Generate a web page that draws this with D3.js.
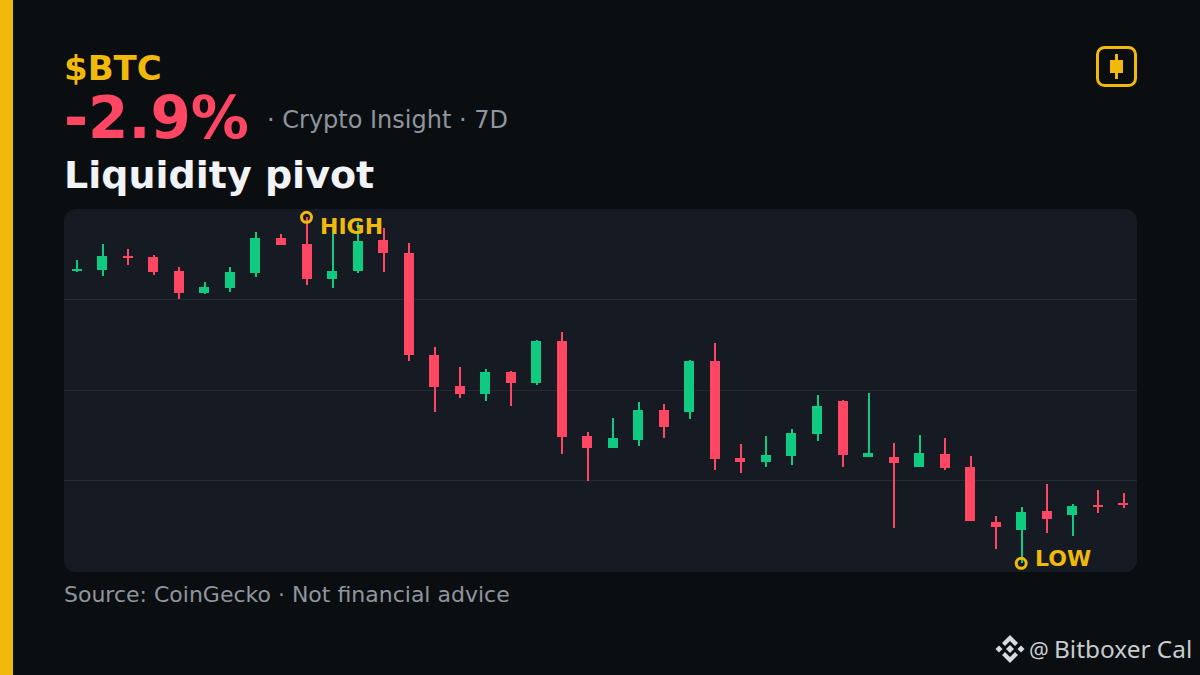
<!DOCTYPE html>
<html>
<head>
<meta charset="utf-8">
<style>
html, body { margin: 0; padding: 0; background: #0b0e11; }
svg { display: block; }
text { font-family: "DejaVu Sans", sans-serif; }
</style>
</head>
<body>
<script src="https://cdn.jsdelivr.net/npm/d3@7"></script>
<script>

// levels, no price axis in the original
var high  = [312,328,323,317,305,290,305,340,338,355,347,350,344,329,225,205,203,201,232,240,140,154,170,168,212,229,128,136,143,177,172,179,129,137,134,116,56,65,88,68,82,79];
var open  = [301,302,316,315,301,279,284,299,334,328,293,301,332,319,217,186,178,200,189,231,136,124,132,162,160,211,114,110,116,138,171,115,115,105,118,105,50,42,61,57,67,69];
var close = [303,316,314,300,279,285,300,334,327,293,301,331,319,217,185,178,200,189,231,135,124,134,162,145,211,113,110,117,139,166,117,119,109,119,104,51,45,60,53,66,65,67];
var low   = [300,296,307,297,273,278,280,295,327,287,284,299,300,211,160,174,171,166,187,118,91,124,126,134,153,102,99,105,107,131,105,115,44,105,102,51,23,9,39,36,59,64];
var gridLevels = [91.5, 182, 272.5];

var width = 1200,
    height = 675;

var gold = "#f0b90b",
    red = "#ff4764",
    green = "#0ecb81",
    grey = "#8f959e";

var panel = {x: 64, y: 209, w: 1073, h: 363};

var svg = d3.select("body").append("svg")
    .attr("width", width)
    .attr("height", height);

svg.append("rect").attr("width", width).attr("height", height).attr("fill", "#0b0e11");
svg.append("rect").attr("width", 13).attr("height", height).attr("fill", gold);

function label(x, y, size, weight, fill, str) {
  return svg.append("text")
    .attr("x", x)
    .attr("y", y)
    .attr("font-size", size)
    .attr("font-weight", weight)
    .attr("fill", fill)
    .text(str);
}

label(64, 80, 34, 700, gold, "$BTC");
label(64, 138, 58, 700, red, "-2.9%");
label(267, 127.5, 24, 400, grey, "· Crypto Insight · 7D");
label(64, 188, 38, 700, "#f1f3f7", "Liquidity pivot");
label(64, 602, 22, 400, grey, "Source: CoinGecko · Not financial advice");

// candle icon, top right
var icon = svg.append("g").attr("transform", "translate(1116.5,66.5)");
icon.append("rect").attr("x", -19).attr("y", -19).attr("width", 38).attr("height", 38).attr("rx", 7)
    .attr("fill", "none").attr("stroke", gold).attr("stroke-width", 3);
icon.append("rect").attr("x", -1.5).attr("y", -12.5).attr("width", 3).attr("height", 25).attr("fill", gold);
icon.append("rect").attr("x", -6.5).attr("y", -6.5).attr("width", 13).attr("height", 13).attr("fill", gold);

// panel
svg.append("rect")
    .attr("x", panel.x).attr("y", panel.y)
    .attr("width", panel.w).attr("height", panel.h)
    .attr("rx", 12)
    .attr("fill", "#161a22");

var x = d3.scaleBand()
    .domain(d3.range(high.length))
    .range([64.62, 1136.67])
    .paddingInner(0.6)
    .paddingOuter(0.3);

var y = d3.scaleLinear()
    .domain([0, 363])
    .range([panel.y + panel.h, panel.y]);

svg.append("g").selectAll("line")
    .data(gridLevels)
  .enter().append("line")
    .attr("x1", panel.x)
    .attr("x2", panel.x + panel.w)
    .attr("y1", function(d) { return Math.floor(y(d)) + 0.5; })
    .attr("y2", function(d) { return Math.floor(y(d)) + 0.5; })
    .attr("stroke", "#262a33")
    .attr("stroke-width", 1);

var data = high.map(function(d, i) {
  return {i: i, high: d, low: low[i], open: open[i], close: close[i]};
});

var color = function(d) { return d.close > d.open ? green : red; };

var candles = svg.append("g").selectAll("g")
    .data(data)
  .enter().append("g")
    .attr("fill", color);

candles.append("rect")
    .attr("x", function(d) { return Math.round(x(d.i) + 5) - 1; })
    .attr("width", 2)
    .attr("y", function(d) { return y(d.high); })
    .attr("height", function(d) { return y(d.low) - y(d.high); });

candles.append("rect")
    .attr("x", function(d) { return Math.floor(x(d.i)); })
    .attr("width", 10)
    .attr("y", function(d) { return y(Math.max(d.open, d.close)); })
    .attr("height", function(d) { return Math.max(1, Math.abs(d.open - d.close)); });

// high and low markers
var hiIndex = d3.maxIndex(high),
    loIndex = d3.minIndex(low);

[[hiIndex, high[hiIndex]], [loIndex, low[loIndex]]].forEach(function(m) {
  svg.append("circle")
    .attr("cx", x(m[0]) + 4.5)
    .attr("cy", y(m[1]) + 0.3)
    .attr("r", 5)
    .attr("fill", "none")
    .attr("stroke", gold)
    .attr("stroke-width", 3);
});

label(320, 234, 22, 700, gold, "HIGH");
label(1035, 566, 22, 700, gold, "LOW");

// watermark
var logo = svg.append("g").attr("transform", "translate(1010,649)").attr("fill", "#d8dadd");
logo.append("path").attr("d", "M0,-14L8,-6L5,-3L0,-8L-5,-3L-8,-6Z");
logo.append("path").attr("d", "M0,14L8,6L5,3L0,8L-5,3L-8,6Z");
logo.append("path").attr("d", "M0,-4L4,0L0,4L-4,0Z");
logo.append("path").attr("d", "M-11,-3.5L-7.5,0L-11,3.5L-14.5,0Z");
logo.append("path").attr("d", "M11,-3.5L14.5,0L11,3.5L7.5,0Z");

var mark = svg.append("text")
    .attr("y", 658)
    .attr("fill", "#c8cbcf")
    .style("font-family", "'Noto Sans', sans-serif");

mark.append("tspan").attr("x", 1029).attr("font-size", 22).text("@");
mark.append("tspan").attr("x", 1054).attr("font-size", 24.4).text("Bitboxer Cal");

</script>
</body>
</html>
